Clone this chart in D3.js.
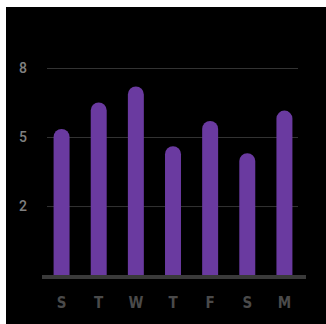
<!DOCTYPE html>
<html>
<head>
<meta charset="utf-8">
<script src="https://cdn.jsdelivr.net/npm/d3@7"></script>
<style>
  body { margin:0; background:#fff; }
  svg { display:block; }
</style>
</head>
<body>
<div id="chart"></div>
<script>
// week data
let days = ['S','T','W','T','F','S','M'],
    values = [5.35, 6.5, 7.2, 4.6, 5.7, 4.3, 6.15],
    yTicks = [2,5,8];

let W = 326, H = 324,
    margin = {top:7,left:6};

let svg = d3.select('#chart').append('svg')
  .attr('width',W).attr('height',H)

svg.append('rect')
  .attr('x',margin.left).attr('y',margin.top)
  .attr('width',W - margin.left).attr('height',H - margin.top)
  .attr('fill','#000')

let yScale = d3.scaleLinear()
  .domain([-1.04, 8])
  .range([276, 68])

let xScale = d3.scaleBand()
  .domain(d3.range(days.length))
  .range([43,303])
  .paddingInner(0.57)
  .paddingOuter(0.285)

// grid
let yAxis = d3.axisLeft(yScale)
  .tickValues(yTicks)
  .tickSize(-(298 - 47))
  .tickPadding(18)

let yGuide = svg.append('g')
  .attr('transform','translate(47,0)')
  .call(yAxis)
yGuide.select('.domain').remove()
yGuide.selectAll('line').attr('stroke','#333').attr('stroke-width',1)
yGuide.selectAll('text')
  .attr('fill','#808080')
  .style('font-family','Roboto, sans-serif')
  .style('font-weight','500')
  .style('font-size','14px')
  .attr('text-anchor','middle')
  .attr('x',-24)

// bars
let r = xScale.bandwidth()/2
svg.append('g').selectAll('path').data(values)
  .enter().append('path')
  .attr('fill','#6a3aa0')
  .attr('d',function(d,i){
    let x0 = xScale(i), x1 = x0 + xScale.bandwidth(),
        top = yScale(d), bot = yScale(-1.04)
    return 'M'+x0+','+bot+' L'+x0+','+(top+r)+
      ' A'+r+','+r+' 0 0 1 '+x1+','+(top+r)+
      ' L'+x1+','+bot+' Z'
  })

// baseline
svg.append('rect')
  .attr('x',42).attr('y',275)
  .attr('width',306-42).attr('height',4)
  .attr('fill','#3a3a3a')

// x labels
let xAxis = d3.axisBottom(xScale)
  .tickFormat(function(i){ return days[i] })
  .tickSize(0)
  .tickPadding(0)
let xGuide = svg.append('g')
  .attr('transform','translate(0,297)')
  .call(xAxis)
xGuide.select('.domain').remove()
xGuide.selectAll('text')
  .attr('fill','#4a4a4a')
  .attr('dy','0.71em')
  .style('font-family','"DejaVu Sans Condensed", "DejaVu Sans", sans-serif')
  .style('font-weight','bold')
  .style('font-size','15px')
</script>
</body>
</html>
